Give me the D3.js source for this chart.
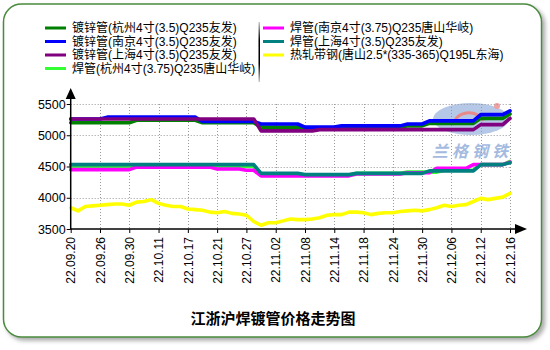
<!DOCTYPE html>
<html><head><meta charset="utf-8">
<script src="https://cdn.jsdelivr.net/npm/d3@7/dist/d3.min.js"></script>
<style>
html,body{margin:0;padding:0;background:#fff;}
svg{display:block;font-family:"Liberation Sans",Arial,"Noto Sans CJK SC",sans-serif;}
</style></head><body>
<svg id="chart" width="550" height="350"></svg>
<script>
const tickLabels = ["22.09.20","22.09.26","22.09.30","22.10.11","22.10.17","22.10.21","22.10.27","22.11.02","22.11.08","22.11.14","22.11.18","22.11.24","22.11.30","22.12.06","22.12.12","22.12.16"];
const seriesNames = ["镀锌管(杭州4寸(3.5)Q235友发)","镀锌管(南京4寸(3.5)Q235友发)","镀锌管(上海4寸(3.5)Q235友发)","焊管(杭州4寸(3.75)Q235唐山华岐)","焊管(南京4寸(3.75)Q235唐山华岐)","焊管(上海4寸(3.5)Q235友发)","热轧带钢(唐山2.5*(335-365)Q195L东海)"];
const seriesColors = ["#008000","#0000ff","#800080","#33ff33","#ff00ff","#008080","#ffff00"];
const yTicks = [3500,4000,4500,5000,5500];

function runs(pairs){const a=[];pairs.forEach(([v,n])=>{for(let k=0;k<n;k++)a.push(v);});return a;}
const hzDuxin = runs([[5200,9],[5240,9],[5200,8],[5130,6],[5120,14],[5150,3],[5190,7],[5270,4],[5340,1]]);
const njDuxin = runs([[5260,5],[5290,13],[5220,8],[5180,6],[5130,5],[5150,9],[5180,3],[5230,7],[5330,4],[5390,1]]);
const shDuxin = runs([[5260,26],[5070,8],[5090,22],[5170,4],[5270,1]]);
const hzHan = runs([[4500,26],[4360,13],[4390,7],[4410,5],[4440,5],[4530,4],[4580,1]]);
const njHan = runs([[4450,9],[4490,11],[4460,4],[4440,2],[4350,13],[4380,7],[4400,4],[4470,5],[4530,5],[4570,1]]);
const shHan = runs([[4530,26],[4390,6],[4370,7],[4390,10],[4430,7],[4530,4],[4560,1]]);
const rzDaigang = [3840,3790,3860,3870,3880,3890,3900,3900,3880,3930,3940,3970,3910,3880,3860,3860,3820,3810,3800,3770,3760,3780,3750,3740,3720,3620,3560,3600,3600,3630,3660,3650,3650,3660,3680,3720,3730,3730,3770,3770,3760,3730,3750,3760,3760,3780,3790,3800,3790,3810,3840,3880,3860,3880,3890,3940,3990,3970,3990,4010,4070];
const allSeries = [hzDuxin,njDuxin,shDuxin,hzHan,njHan,shHan,rzDaigang];
const pointsPerTick = 4;

const svg = d3.select("#chart");
const defs = svg.append("defs");
const f = defs.append("filter").attr("id","sh").attr("x","-5%").attr("y","-5%").attr("width","112%").attr("height","115%");
f.append("feGaussianBlur").attr("in","SourceAlpha").attr("stdDeviation",2);
f.append("feOffset").attr("dx",3).attr("dy",3).attr("result","ob");
f.append("feFlood").attr("flood-color","#888").attr("flood-opacity",0.7);
f.append("feComposite").attr("in2","ob").attr("operator","in");
const fm = f.append("feMerge"); fm.append("feMergeNode"); fm.append("feMergeNode").attr("in","SourceGraphic");

// frame
svg.append("rect").attr("x",3.5).attr("y",4).attr("width",538).attr("height",333).attr("rx",18)
  .attr("fill","#fff").attr("stroke","#4a8c3c").attr("stroke-width",1.5).attr("filter","url(#sh)");

const x = d3.scaleLinear().domain([0,(tickLabels.length-1)*pointsPerTick]).range([70.7,510]);
const y = d3.scaleLinear().domain([3500,5500]).range([229,104]);

// watermark
const wm = svg.append("g");
wm.append("ellipse").attr("cx",471).attr("cy",119).attr("rx",38).attr("ry",16).attr("fill","#aec2e4").attr("opacity",0.9);
wm.append("path").attr("d","M455,125 A14,10 0 0 1 483,121").attr("fill","none").attr("stroke","#e88a8a").attr("stroke-width",3);
wm.append("circle").attr("cx",497).attr("cy",106).attr("r",3).attr("fill","#f0a0a0");
wm.append("text").attr("x",472).attr("y",157).attr("text-anchor","middle").attr("font-size",16).attr("font-weight","bold")
  .attr("font-style","italic").attr("letter-spacing",4).attr("fill","#a5badf").attr("font-family","Noto Sans CJK SC").text("兰格钢铁");

// grid
const grid = svg.append("g").attr("stroke","#999").attr("stroke-width",1).attr("stroke-dasharray","1,2");
yTicks.filter(v=>v>3500).forEach(v=>grid.append("line").attr("x1",x.range()[0]).attr("x2",x.range()[1]).attr("y1",Math.round(y(v))+0.5).attr("y2",Math.round(y(v))+0.5));
tickLabels.forEach((t,i)=>{ if(i>0){const xx=Math.round(x(i*pointsPerTick))+0.5; grid.append("line").attr("x1",xx).attr("x2",xx).attr("y1",y(5500)).attr("y2",y(3500));}});

// lines
const line = d3.line().x((d,i)=>x(i)).y(d=>y(d));
allSeries.forEach((s,k)=>{
  svg.append("path").attr("d",line(s)).attr("fill","none").attr("stroke",seriesColors[k]).attr("stroke-width",3.6)
    .attr("stroke-linejoin","round").attr("stroke-linecap","round");
});

// axes
const xAxis = d3.axisBottom(x).tickValues(tickLabels.map((t,i)=>i*pointsPerTick)).tickFormat((d,i)=>tickLabels[i]).tickSize(4).tickSizeOuter(0);
const gx = svg.append("g").attr("transform",`translate(0,${y(3500)})`).call(xAxis);
gx.select(".domain").remove();
gx.selectAll("line").attr("stroke","#000");
gx.selectAll("text").attr("transform","rotate(-90)").attr("text-anchor","end").attr("x",-8).attr("y",0).attr("dy","0.35em")
  .attr("font-size",12).attr("fill","#000").attr("font-family","Liberation Sans, Arial");
const yAxis = d3.axisLeft(y).tickValues(yTicks).tickFormat(d3.format("d")).tickSize(4).tickSizeOuter(0);
const gy = svg.append("g").attr("transform",`translate(${x(0)},0)`).call(yAxis);
gy.select(".domain").remove();
gy.selectAll("line").attr("stroke","#000");
gy.selectAll("text").attr("font-size",12.5).attr("fill","#000").attr("x",-5).attr("font-family","Liberation Sans, Arial");

svg.append("line").attr("x1",x(0)).attr("x2",x(0)).attr("y1",y(3500)+0.5).attr("y2",95).attr("stroke","#000").attr("stroke-width",1.5);
svg.append("path").attr("d",`M${x(0)-5},${99} L${x(0)+5},${99} L${x(0)},${88} Z`).attr("fill","#000");
svg.append("line").attr("x1",x(0)).attr("x2",520).attr("y1",y(3500)).attr("y2",y(3500)).attr("stroke","#000").attr("stroke-width",1.5);
svg.append("path").attr("d",`M515,${y(3500)-5} L515,${y(3500)+5} L527,${y(3500)} Z`).attr("fill","#000");

// legend
const lg = svg.append("g");
const rowsY = [28,41.5,55,68.5];
seriesNames.forEach((n,k)=>{
  const col = k<4?0:1, row = k<4?k:k-4;
  const lx = col===0?45:263, ty = rowsY[row];
  lg.append("line").attr("x1",lx).attr("x2",lx+21).attr("y1",ty).attr("y2",ty).attr("stroke",seriesColors[k]).attr("stroke-width",3);
  lg.append("text").attr("x",lx+27).attr("y",ty).attr("dy","0.36em").attr("font-size",12).attr("fill","#000").text(n);
});
const sg = defs.append("linearGradient").attr("id","sep").attr("x1",0).attr("x2",0).attr("y1",0).attr("y2",1);
sg.append("stop").attr("offset","0%").attr("stop-color","#ccc");
sg.append("stop").attr("offset","30%").attr("stop-color","#000");
sg.append("stop").attr("offset","70%").attr("stop-color","#000");
sg.append("stop").attr("offset","100%").attr("stop-color","#ccc");
lg.append("rect").attr("x",258.5).attr("y",22).attr("width",1.5).attr("height",60).attr("fill","url(#sep)");

// title
svg.append("text").attr("x",273).attr("y",324).attr("text-anchor","middle").attr("font-size",15).attr("font-weight","bold")
  .attr("font-family","Noto Sans CJK SC").attr("fill","#000").text("江浙沪焊镀管价格走势图");
</script></body></html>
